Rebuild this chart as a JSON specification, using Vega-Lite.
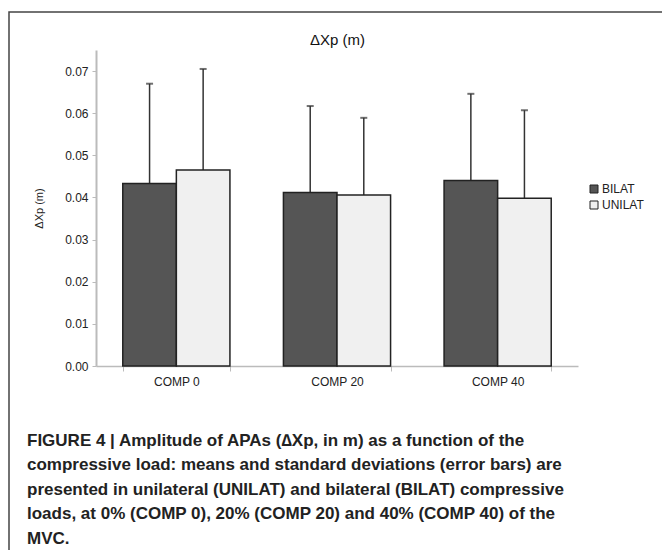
{
  "$schema": "https://vega.github.io/schema/vega-lite/v6.json",
  "width": 482,
  "height": 316,
  "autosize": {"type": "none"},
  "padding": {"left": 96, "top": 50, "right": 84, "bottom": 184},
  "background": "white",
  "config": {"view": {"stroke": null}, "font": "Liberation Sans"},
  "title": {
    "text": [
      "FIGURE 4 | Amplitude of APAs (∆Xp, in m) as a function of the",
      "compressive load: means and standard deviations (error bars) are",
      "presented in unilateral (UNILAT) and bilateral (BILAT) compressive",
      "loads, at 0% (COMP 0), 20% (COMP 20) and 40% (COMP 40) of the",
      "MVC."
    ],
    "orient": "bottom",
    "anchor": "start",
    "frame": "group",
    "dx": -69,
    "offset": -158,
    "baseline": "top",
    "font": "Liberation Sans",
    "fontSize": 17,
    "fontWeight": "bold",
    "lineHeight": 24.5,
    "color": "#222222"
  },
  "data": {
    "values": [
      {"comp": "COMP 0", "group": "BILAT", "mean": 0.0433, "hi": 0.0670},
      {"comp": "COMP 0", "group": "UNILAT", "mean": 0.0465, "hi": 0.0705},
      {"comp": "COMP 20", "group": "BILAT", "mean": 0.0412, "hi": 0.0617},
      {"comp": "COMP 20", "group": "UNILAT", "mean": 0.0406, "hi": 0.0589},
      {"comp": "COMP 40", "group": "BILAT", "mean": 0.0440, "hi": 0.0646},
      {"comp": "COMP 40", "group": "UNILAT", "mean": 0.0398, "hi": 0.0607}
    ]
  },
  "layer": [
    {
      "data": {"values": [{"frame": 1}]},
      "mark": {"type": "rect", "fill": null, "stroke": "#444444", "strokeWidth": 1.5},
      "encoding": {
        "x": {"value": -87},
        "x2": {"value": 620},
        "y": {"value": -38},
        "y2": {"value": 540}
      }
    },
    {
      "mark": {"type": "rule", "color": "#333333", "strokeWidth": 1.5},
      "encoding": {
        "x": {
          "field": "comp", "type": "nominal", "sort": ["COMP 0", "COMP 20", "COMP 40"],
          "scale": {"paddingInner": 0.333, "paddingOuter": 0.1667},
          "axis": {"orient": "top", "labels": false, "ticks": false, "domain": false, "title": "ΔXp (m)", "titleFontSize": 15, "titleFontWeight": "normal", "titleColor": "#111111", "titlePadding": 3}
        },
        "xOffset": {"field": "group", "type": "nominal", "sort": ["BILAT", "UNILAT"], "scale": {"paddingInner": 0, "paddingOuter": 0}},
        "y": {"field": "mean", "type": "quantitative"},
        "y2": {"field": "hi"}
      }
    },
    {
      "mark": {"type": "tick", "color": "#333333", "thickness": 2, "size": 7},
      "encoding": {
        "x": {"field": "comp", "type": "nominal", "sort": ["COMP 0", "COMP 20", "COMP 40"], "axis": null},
        "xOffset": {"field": "group", "type": "nominal", "sort": ["BILAT", "UNILAT"]},
        "y": {"field": "hi", "type": "quantitative"}
      }
    },
    {
      "mark": {"type": "bar", "stroke": "#222222", "strokeWidth": 1.5},
      "encoding": {
        "x": {
          "field": "comp", "type": "nominal", "sort": ["COMP 0", "COMP 20", "COMP 40"],
          "axis": {"orient": "bottom", "title": null, "labelAngle": 0, "labelFontSize": 12, "labelColor": "#222222", "labelPadding": 5, "domainColor": "#bbbbbb", "domainWidth": 1.5, "tickColor": "#bbbbbb", "tickSize": 5, "tickBand": "extent"}
        },
        "xOffset": {"field": "group", "type": "nominal", "sort": ["BILAT", "UNILAT"]},
        "y": {
          "field": "mean", "type": "quantitative",
          "scale": {"domain": [0, 0.075], "nice": false},
          "axis": {"values": [0, 0.01, 0.02, 0.03, 0.04, 0.05, 0.06, 0.07], "format": ".2f", "grid": false, "title": "ΔXp (m)", "titleFontSize": 11, "titleFontWeight": "normal", "titleColor": "#222222", "titlePadding": 20, "labelFontSize": 12, "labelColor": "#222222", "labelPadding": 4, "domainColor": "#bbbbbb", "domainWidth": 2, "tickColor": "#bbbbbb", "tickSize": 4}
        },
        "color": {
          "field": "group", "type": "nominal", "sort": ["BILAT", "UNILAT"],
          "scale": {"range": ["#555555", "#f0f0f0"]},
          "legend": {"title": null, "orient": "none", "legendX": 492, "legendY": 133, "symbolType": "square", "symbolStrokeColor": "#222222", "symbolStrokeWidth": 1, "symbolSize": 64, "labelFontSize": 12, "labelColor": "#222222", "labelOffset": 2, "rowPadding": 4}
        }
      }
    }
  ],
  "resolve": {"axis": {"x": "independent"}}
}
